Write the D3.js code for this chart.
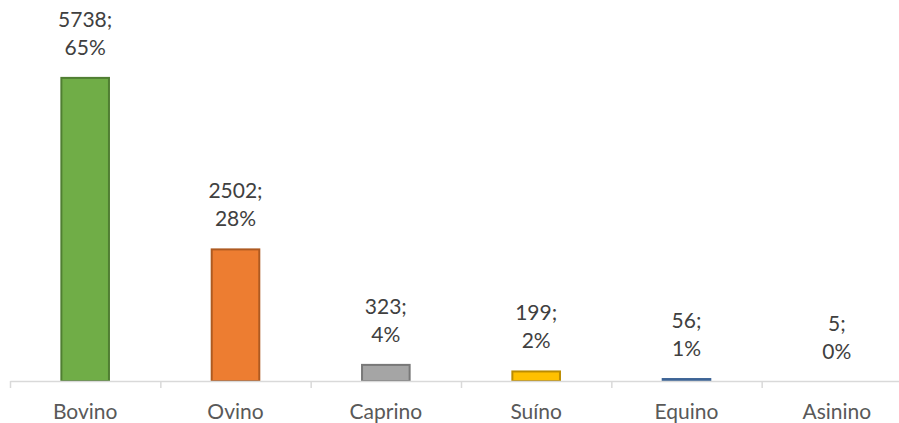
<!DOCTYPE html>
<html>
<head>
<meta charset="utf-8">
<script src="https://cdn.jsdelivr.net/npm/d3@7"></script>
<style>
  body { margin: 0; background: #fff; }
  text { font-family: Lato, "Open Sans", sans-serif; }
</style>
</head>
<body>
<svg id="chart"></svg>
<script>
var width = 899;
var height = 423;

var categories = ['Bovino', 'Ovino', 'Caprino', 'Suíno', 'Equino', 'Asinino'];
var values = [5738, 2502, 323, 199, 56, 5];
var percents = ['65%', '28%', '4%', '2%', '1%', '0%'];
var fills = ['#70ad47', '#ed7d31', '#a5a5a5', '#ffc000', '#4472c4', '#70ad47'];
var strokes = ['#507e32', '#ae5a21', '#787878', '#bc8c00', '#3d6496', '#507e32'];

var baseY = 381;

var svg = d3.select('#chart')
  .attr('width', width)
  .attr('height', height);

var xScale = d3.scaleBand()
  .domain(categories)
  .range([10, 912])
  .paddingInner(0.67)
  .paddingOuter(0.335);

var yScale = d3.scaleLinear()
  .domain([0, 7000])
  .range([baseY, 10]);

// bars
svg.selectAll('rect.bar')
  .data(values)
  .enter()
  .append('rect')
    .attr('class', 'bar')
    .attr('x', function(d, i){ return xScale(categories[i]) + 1; })
    .attr('y', function(d){ return yScale(d) + 1; })
    .attr('width', xScale.bandwidth() - 2)
    .attr('height', function(d){ return Math.max(0, baseY - yScale(d) - 1); })
    .attr('fill', function(d, i){ return fills[i]; })
    .attr('stroke', function(d, i){ return strokes[i]; })
    .attr('stroke-width', function(d){ return baseY - yScale(d) > 1 ? 2 : 0; });

// x axis
var xAxis = svg.append('g')
  .attr('transform', `translate(0, ${baseY})`)
  .call(d3.axisBottom(d3.scaleLinear().domain([0, 6]).range([10, 912]))
    .ticks(6)
    .tickSize(7)
    .tickSizeOuter(0)
    .tickFormat(''));
xAxis.selectAll('path, line').attr('stroke', '#d9d9d9').attr('stroke-width', 1.5);

// category labels
svg.selectAll('text.cat')
  .data(categories)
  .enter()
  .append('text')
    .attr('class', 'cat')
    .attr('x', function(d){ return xScale(d) + xScale.bandwidth() / 2; })
    .attr('y', 419)
    .attr('text-anchor', 'middle')
    .attr('font-size', 21)
    .attr('fill', '#595959')
    .text(function(d){ return d; });

// data labels
var labels = svg.selectAll('text.lbl')
  .data(values)
  .enter()
  .append('text')
    .attr('class', 'lbl')
    .attr('text-anchor', 'middle')
    .attr('font-size', 21)
    .attr('fill', '#404040');

labels.append('tspan')
  .attr('x', function(d, i){ return xScale(categories[i]) + xScale.bandwidth() / 2; })
  .attr('y', function(d){ return yScale(d) - 50; })
  .text(function(d){ return d + ';'; });

labels.append('tspan')
  .attr('x', function(d, i){ return xScale(categories[i]) + xScale.bandwidth() / 2; })
  .attr('y', function(d){ return yScale(d) - 22; })
  .text(function(d, i){ return percents[i]; });
</script>
</body>
</html>
